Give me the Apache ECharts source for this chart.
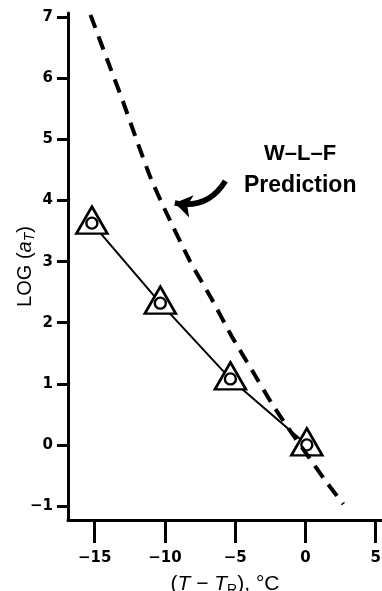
<!DOCTYPE html>
<html>
<head>
<meta charset="utf-8">
<script src="https://cdn.jsdelivr.net/npm/echarts@6/dist/echarts.min.js"></script>
<style>
html,body{margin:0;padding:0;background:#fff;}
#c{width:382px;height:591px;}
</style>
</head>
<body>
<div id="c"></div>
<script>
// Tick values
const xTicks = [-15, -10, -5, 0, 5];
const yTicks = [-1, 0, 1, 2, 3, 4, 5, 6, 7];
// Measured shift factors (triangles with circles)
const measuredX = [-15.2, -10.33, -5.34, 0.1];
const measuredY = [3.63, 2.32, 1.08, 0.0];
// W-L-F prediction (dashed curve)
const wlfX = [-15.3, -14.1, -13.0, -12.0, -11.0, -9.9, -8.2, -6.7, -5.3, -3.8, -2.4, -1.0, 0.3, 1.4, 2.7];
const wlfY = [7.04, 6.3, 5.63, 4.98, 4.36, 3.8, 3.0, 2.4, 1.8, 1.22, 0.68, 0.2, -0.22, -0.58, -0.97];

const FONT = '"Liberation Sans", Arial, sans-serif';
const TICKFONT = '"DejaVu Sans", "Liberation Sans", sans-serif';
const measured = measuredX.map((x, i) => [x, measuredY[i]]);
const wlf = wlfX.map((x, i) => [x, wlfY[i]]);
const minus = v => (v < 0 ? '\u2212' + Math.abs(v) : String(v));

const chart = echarts.init(document.getElementById('c'), null, {renderer: 'canvas'});
chart.setOption({
  animation: false,
  backgroundColor: '#fff',
  grid: {left: 68, right: 0, top: 13, bottom: 71, containLabel: false, outerBoundsMode: 'none'},
  xAxis: {
    type: 'value', min: -16.9, max: 5.45,
    axisLine: {show: true, onZero: false, lineStyle: {color: '#000', width: 3}},
    axisTick: {show: true, length: 23, lineStyle: {color: '#000', width: 3}, customValues: xTicks},
    axisLabel: {customValues: xTicks, formatter: minus, color: '#000', fontSize: 15, fontWeight: 'bold', fontFamily: TICKFONT, margin: 31},
    splitLine: {show: false},
    name: '({i|T} \u2212 {i|T}{s|R}), \u00B0C',
    nameLocation: 'middle', nameGap: 52, nameMoveOverlap: false,
    nameTextStyle: {color: '#000', fontSize: 21, fontFamily: FONT,
      rich: {i: {fontStyle: 'italic', fontSize: 21, fontFamily: FONT, color: '#000'},
             s: {fontSize: 14, fontFamily: FONT, color: '#000', verticalAlign: 'bottom', padding: [11, 0, 0, 0]}}}
  },
  yAxis: {
    type: 'value', min: -1.23, max: 7.07,
    axisLine: {show: true, onZero: false, lineStyle: {color: '#000', width: 3}},
    axisTick: {show: true, length: 11, lineStyle: {color: '#000', width: 3}, customValues: yTicks},
    axisLabel: {customValues: yTicks, formatter: minus, color: '#000', fontSize: 15, fontWeight: 'bold', fontFamily: TICKFONT, margin: 15},
    splitLine: {show: false},
    name: 'LOG ({i|a}{s|T})',
    nameLocation: 'middle', nameGap: 31, nameRotate: 90, nameMoveOverlap: false,
    nameTextStyle: {color: '#000', fontSize: 20, fontFamily: FONT,
      rich: {i: {fontStyle: 'italic', fontSize: 20, fontFamily: FONT, color: '#000'},
             s: {fontStyle: 'italic', fontSize: 14, fontFamily: FONT, color: '#000', verticalAlign: 'bottom', padding: [10, 0, 0, 0]}}}
  },
  series: [
    {
      type: 'line', data: measured, symbol: 'none', z: 2,
      lineStyle: {color: '#000', width: 2}
    },
    {
      type: 'line', data: wlf, symbol: 'none', smooth: 0.2, z: 5,
      lineStyle: {color: '#000', width: 4, type: [14, 9], cap: 'butt'}
    },
    {
      type: 'scatter', data: measured, symbol: 'triangle', symbolSize: [31, 27], symbolOffset: [0, -3], z: 3,
      itemStyle: {color: '#fff', borderColor: '#000', borderWidth: 2.6, opacity: 1}
    },
    {
      type: 'scatter', data: measured, symbol: 'circle', symbolSize: 11, z: 4,
      itemStyle: {color: '#fff', borderColor: '#000', borderWidth: 2.4, opacity: 1}
    },
    {
      type: 'lines', coordinateSystem: 'cartesian2d', z: 6,
      symbol: ['none', 'arrow'], symbolSize: 17,
      lineStyle: {color: '#000', width: 5.5, curveness: 0.35, opacity: 1},
      data: [{coords: [[-5.7, 4.32], [-9.3, 3.96]]}]
    }
  ],
  graphic: [
    {type: 'text', left: 264, top: 143, style: {text: 'W\u2013L\u2013F', fill: '#000', font: 'bold 22px ' + FONT}},
    {type: 'text', left: 244, top: 174, style: {text: 'Prediction', fill: '#000', font: 'bold 23px ' + FONT}}
  ]
});
</script>
</body>
</html>
